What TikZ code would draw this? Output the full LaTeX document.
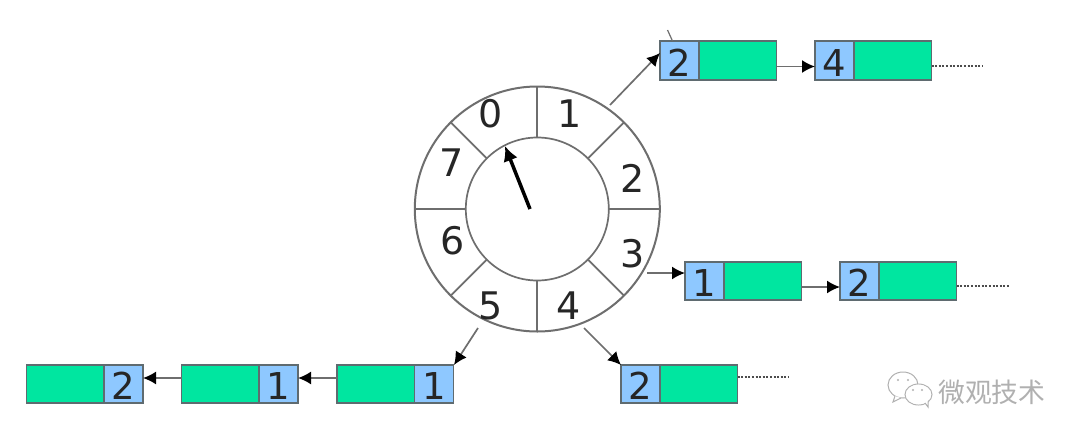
\documentclass[tikz,border=0pt]{standalone}
\usepackage{fontspec}
\setmainfont{DejaVu Sans}
\newfontfamily\cjk{Noto Sans CJK SC}
\usetikzlibrary{arrows.meta,calc}
\definecolor{keyblue}{HTML}{8EC8FF}
\definecolor{datagreen}{HTML}{00E6A0}
\definecolor{edgegray}{HTML}{5F6B70}
\definecolor{ringgray}{HTML}{6E6E6E}
\definecolor{markgray}{HTML}{B0B0B0}
\tikzset{
  keybox/.style={draw=edgegray,line width=1.6pt,fill=keyblue,outer sep=0pt,minimum width=39pt,minimum height=38.5pt,inner sep=0pt,text height=31.5pt,text depth=0pt,font=\fontsize{37}{37}\selectfont,text=black!85},
  databox/.style={draw=edgegray,line width=1.6pt,fill=datagreen,outer sep=0pt,minimum width=77.5pt,minimum height=38.5pt,inner sep=0pt},
  ringnum/.style={inner sep=0pt,font=\fontsize{38}{38}\selectfont,text=black!85},
  ringline/.style={draw=ringgray,line width=1.7pt},
  link/.style={draw=ringgray,line width=1.7pt,-{Latex[length=13pt,width=13pt,black]}},
  tail/.style={draw=black!70,line width=2pt,dash pattern=on 2pt off 1.6pt},
  bubble/.style={draw=markgray,line width=1pt,fill=white}
}
\begin{document}
\begin{tikzpicture}[x=1pt,y=-1pt]
\useasboundingbox[fill=white] (0,0) rectangle (1080,440);
% ring
\coordinate (c) at (537.3,209);
\draw[ringline,line width=2pt] (c) circle[radius=122.5];
\draw[ringline] (c) circle[radius=71.5];
\foreach \a in {0,45,...,315}
  \draw[ringline] ($(c)+(\a:71.5)$) -- ($(c)+(\a:122.5)$);
% ring digits
\node[ringnum] (n0) at (490.5,114) {0};
\node[ringnum] (n1) at (569.5,114) {1};
\node[ringnum] (n2) at (633,178) {2};
\node[ringnum] (n3) at (633,254) {3};
\node[ringnum] (n4) at (569,306) {4};
\node[ringnum] (n5) at (491,306) {5};
\node[ringnum] (n6) at (453,241) {6};
\node[ringnum] (n7) at (452,163) {7};
% hand
\coordinate (h0) at (530,209);
\coordinate (h1) at (505,146);
\draw[line width=3.5pt,black,-{Latex[length=15pt,width=15pt]}] (h0) -- (h1);
% top list
\node[keybox] (a1k) at (679.5,60.5) {2};
\node[databox,anchor=west] (a1d) at (a1k.east) {};
\node[keybox] (a2k) at (834.5,60.5) {4};
\node[databox,anchor=west] (a2d) at (a2k.east) {};
% middle list
\node[keybox] (b1k) at (704.5,281) {1};
\node[databox,anchor=west] (b1d) at (b1k.east) {};
\node[keybox] (b2k) at (859.5,281) {2};
\node[databox,anchor=west] (b2d) at (b2k.east) {};
% lower right list
\node[keybox] (d1k) at (640.5,384) {2};
\node[databox,anchor=west] (d1d) at (d1k.east) {};
% left list
\node[keybox] (e1k) at (434,384) {1};
\node[databox,anchor=east] (e1d) at (e1k.west) {};
\node[keybox] (e2k) at (278.5,384) {1};
\node[databox,anchor=east] (e2d) at (e2k.west) {};
\node[keybox] (e3k) at (123.5,384) {2};
\node[databox,anchor=east] (e3d) at (e3k.west) {};
% connector ends
\coordinate (s1) at (610,105);
\coordinate (t1) at (660,53);
\coordinate (s3) at (647,273);
\coordinate (t3) at (685,273);
\coordinate (s4) at (584,328);
\coordinate (t4) at (621,365);
\coordinate (s5) at (478,328);
\coordinate (t5) at (454,365);
\draw[link] (s1) -- (t1);
\draw[link] (s3) -- (t3);
\draw[link] (s4) -- (t4);
\draw[link] (s5) -- (t5);
\coordinate (p1) at ($(a1d.east)+(0,6)$);
\draw[link] (p1) -- (p1-|a2k.west);
\coordinate (p2) at ($(b1d.east)+(0,6)$);
\draw[link] (p2) -- (p2-|b2k.west);
\coordinate (p3) at ($(e1d.west)+(0,-6)$);
\draw[link] (p3) -- (p3-|e2k.east);
\coordinate (p4) at ($(e2d.west)+(0,-6)$);
\draw[link] (p4) -- (p4-|e3k.east);
% dotted tails
\coordinate (q1) at (983,66);
\draw[tail] (q1-|a2d.east) -- (q1);
\coordinate (q2) at (1009,286);
\draw[tail] (q2-|b2d.east) -- (q2);
\coordinate (q3) at (788,377);
\draw[tail] (q3-|d1d.east) -- (q3);
% stray tick above the first box
\coordinate (k0) at (667.5,30);
\coordinate (k1) at (672.5,41);
\draw[draw=ringgray,line width=1.2pt] (k0) -- (k1);
% watermark
\draw[bubble] (903,385) ellipse[x radius=15,y radius=13];
\draw[bubble] (895,396) -- (893,402) -- (901,398);
\draw[bubble] (918.5,394.5) ellipse[x radius=13.5,y radius=10.5];
\draw[bubble] (925,403) -- (928,407) -- (928,400);
\fill[white] (918.5,394.5) ellipse[x radius=12.5,y radius=9.8];
\fill[markgray] (898,380) circle[radius=1.2] (908,380) circle[radius=1.2] (913,390) circle[radius=1.2] (922,390) circle[radius=1.2];
\node[inner sep=0pt,anchor=west,text=markgray,font={\cjk\fontsize{26.8}{26.8}\selectfont}] (wm) at (938,392) {微观技术};
\end{tikzpicture}
\end{document}
